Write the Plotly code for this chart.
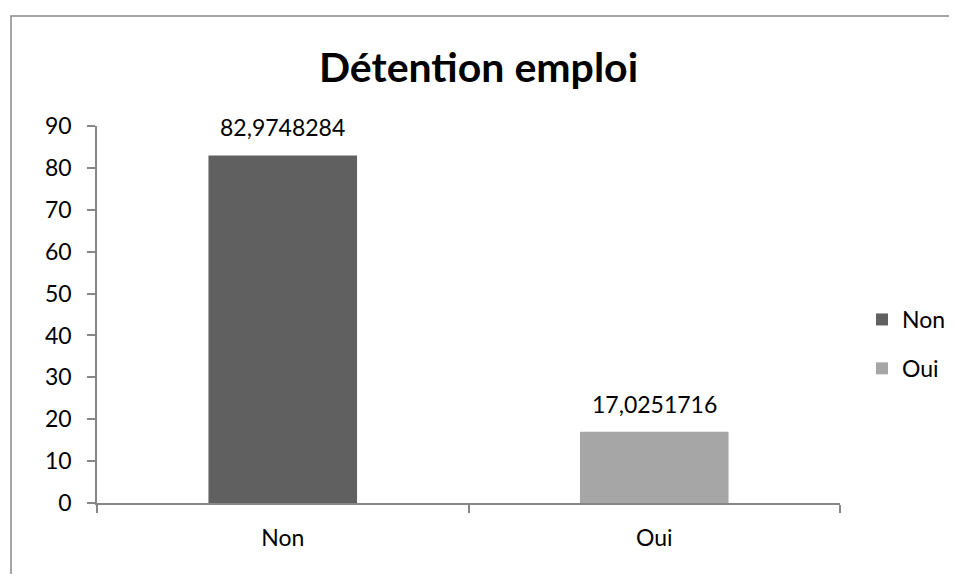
import plotly.graph_objects as go

categories = ["Non", "Oui"]
values = [82.9748284, 17.0251716]
value_labels = ["82,9748284", "17,0251716"]
colors = ["#606060", "#a6a6a6"]
y_ticks = [0, 10, 20, 30, 40, 50, 60, 70, 80, 90]

FONT = "Lato, Carlito, Calibri, sans-serif"
FS = 23

fig = go.Figure()
for i, cat in enumerate(categories):
    fig.add_trace(go.Bar(
        x=[cat], y=[values[i]], name=cat,
        marker=dict(color=colors[i], line=dict(width=0)),
        width=0.4, legendgroup=cat,
    ))

# page has an 8px body margin; figure sized to fit without scrollbars
OFF = 8
W, H = 941, 566
l, t = 97 - OFF, 126 - OFF
r = W - (840 - OFF)
b = H - (503 - OFF)
pw, ph = W - l - r, H - t - b

def px_x(xpage):
    return (xpage - OFF - l) / pw

def px_y(ypage):
    return (H - b - (ypage - OFF)) / ph

annotations = [
    dict(x=categories[i], y=values[i], xref="x", yref="y", text=value_labels[i],
         showarrow=False, yanchor="bottom", yshift=12,
         font=dict(size=FS, family=FONT, color="black"))
    for i in range(len(categories))
]

fig.update_layout(
    width=W, height=H,
    margin=dict(l=l, r=r, t=t, b=b, autoexpand=False),
    paper_bgcolor="white", plot_bgcolor="white",
    barmode="overlay",
    font=dict(family=FONT, size=FS, color="black"),
    title=dict(text="<b>Détention emploi</b>", x=0.5, xref="container", xanchor="center",
               y=1 - 59.5 / H, yanchor="middle", font=dict(size=41, family=FONT, color="black")),
    showlegend=True,
    legend=dict(x=px_x(862), y=px_y(344), xanchor="left", yanchor="middle",
                font=dict(size=FS, family=FONT), tracegroupgap=16,
                bgcolor="rgba(0,0,0,0)"),
    annotations=annotations,
    xaxis=dict(
        categoryorder="array", categoryarray=categories, automargin=False,
        showline=True, linecolor="#868686", linewidth=1.5,
        ticks="outside", tickson="boundaries", ticklen=8, tickcolor="#868686", tickwidth=1.5,
        showgrid=False, zeroline=False,
        tickfont=dict(size=FS, family=FONT), ticklabelstandoff=14,
    ),
    yaxis=dict(
        range=[0, 90], tickvals=y_ticks, automargin=False,
        showline=True, linecolor="#868686", linewidth=1.5,
        ticks="outside", ticklen=8, tickcolor="#868686", tickwidth=1.5,
        showgrid=False, zeroline=False,
        tickfont=dict(size=FS, family=FONT), ticklabelstandoff=11,
    ),
    shapes=[dict(type="rect", xref="paper", yref="paper",
                 x0=px_x(11), x1=px_x(990), y0=px_y(620), y1=px_y(16),
                 line=dict(color="#888888", width=1.5), fillcolor="rgba(0,0,0,0)", layer="below")],
)

fig.write_html("out.html")
